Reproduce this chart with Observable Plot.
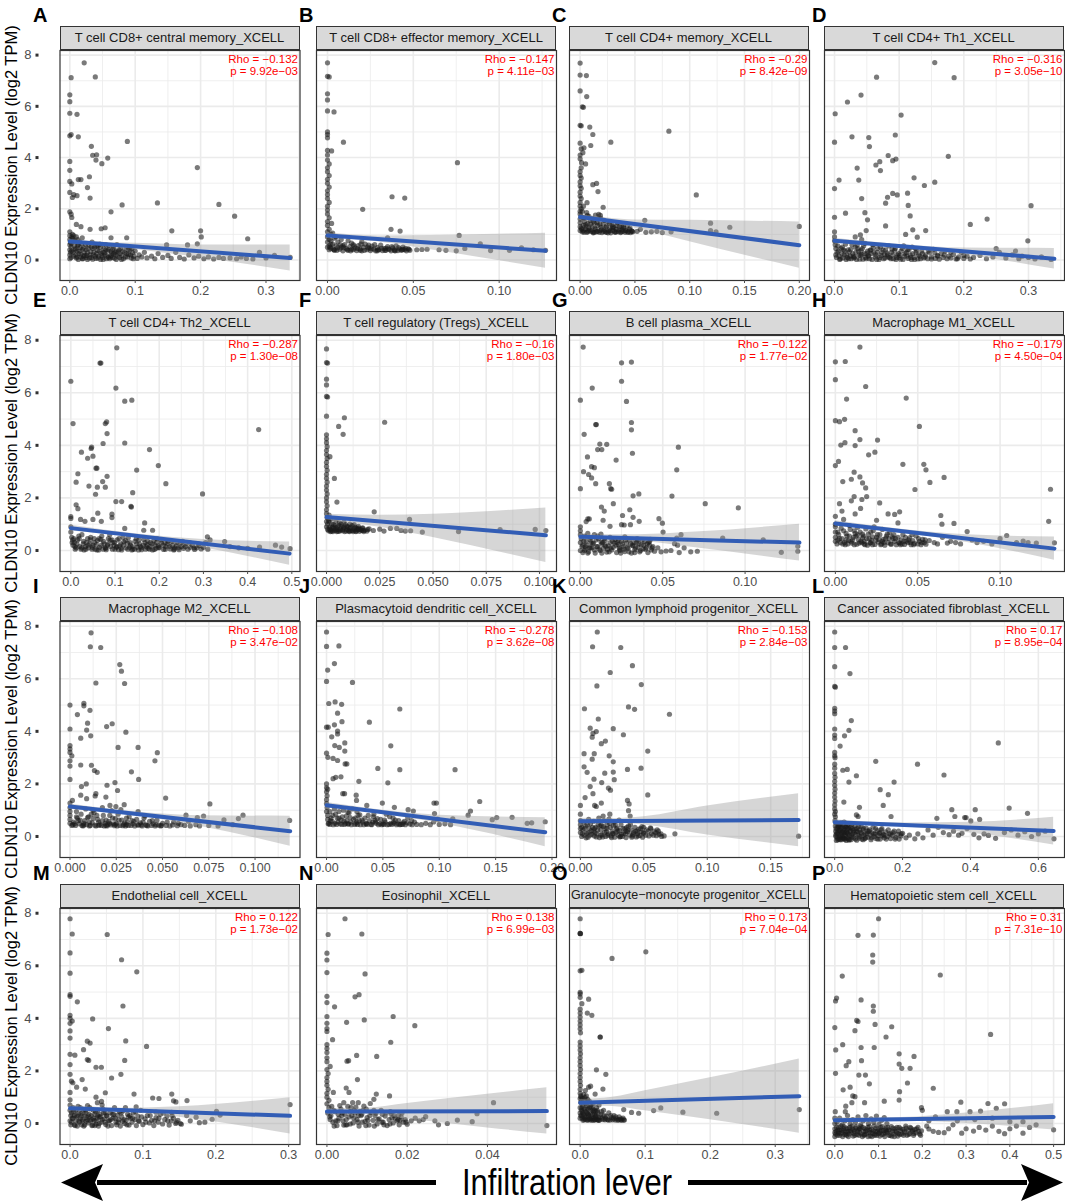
<!DOCTYPE html>
<html><head><meta charset="utf-8">
<script src="https://cdn.jsdelivr.net/npm/d3@7"></script>
<script src="https://cdn.jsdelivr.net/npm/@observablehq/plot@0.6"></script>
<style>
body{margin:0;background:#fff;}
#root{position:relative;width:1065px;height:1202px;overflow:hidden;background:#fff;font-family:"Liberation Sans",Arial,sans-serif;}
.strip{position:absolute;box-sizing:border-box;border:1.2px solid #333;background:#d9d9d9;color:#1a1a1a;font-size:13px;white-space:nowrap;overflow:hidden;line-height:21.6px;display:flex;justify-content:center;}
.panel{position:absolute;}
#overlay{position:absolute;left:0;top:0;pointer-events:none;}
</style></head><body><div id="root"></div>
<script>
// ---------------- DATA ----------------
const panelLetters = ["A","B","C","D","E","F","G","H","I","J","K","L","M","N","O","P"];
const panelTitles = [
 "T cell CD8+ central memory_XCELL","T cell CD8+ effector memory_XCELL","T cell CD4+ memory_XCELL","T cell CD4+ Th1_XCELL",
 "T cell CD4+ Th2_XCELL","T cell regulatory (Tregs)_XCELL","B cell plasma_XCELL","Macrophage M1_XCELL",
 "Macrophage M2_XCELL","Plasmacytoid dendritic cell_XCELL","Common lymphoid progenitor_XCELL","Cancer associated fibroblast_XCELL",
 "Endothelial cell_XCELL","Eosinophil_XCELL","Granulocyte\u2212monocyte progenitor_XCELL","Hematopoietic stem cell_XCELL"];
const rhoValues = ["\u22120.132","\u22120.147","\u22120.29","\u22120.316","\u22120.287","\u22120.16","\u22120.122","\u22120.179",
 "\u22120.108","\u22120.278","\u22120.153","0.17","0.122","0.138","0.173","0.31"];
const pValues = ["9.92e\u221203","4.11e\u221203","8.42e\u221209","3.05e\u221210","1.30e\u221208","1.80e\u221203","1.77e\u221202","4.50e\u221204",
 "3.47e\u221202","3.62e\u221208","2.84e\u221203","8.95e\u221204","1.73e\u221202","6.99e\u221203","7.04e\u221204","7.31e\u221210"];
const xDomains = [[-.015,.352],[-.0064,.1334],[-.0097,.2093],[-.0155,.3557],[-.0245,.5185],[-.0047,.108],[-.0066,.1391],[-.0066,.1391],
 [-.0054,.1243],[-.0089,.204],[-.0086,.1806],[-.03,.677],[-.0138,.3156],[-.0026,.0572],[-.0164,.3527],[-.0236,.5249]];
const xTicks = [[0,.1,.2,.3],[0,.05,.1],[0,.05,.1,.15,.2],[0,.1,.2,.3],[0,.1,.2,.3,.4,.5],[0,.025,.05,.075,.1],[0,.05,.1],[0,.05,.1],
 [0,.025,.05,.075,.1],[0,.05,.1,.15,.2],[0,.05,.1,.15],[0,.2,.4,.6],[0,.1,.2,.3],[0,.02,.04],[0,.1,.2,.3],[0,.1,.2,.3,.4,.5]];
const xDigits = [1,2,2,1,1,3,2,2,3,2,2,1,1,2,1,1];
const yTicks = [0,2,4,6,8];
const yMinor = [1,3,5,7];
const fitStart = [[0,.72],[0,.96],[0,1.68],[0,.75],[0,.85],[0,1.27],[0,.52],[0,1.03],[0,1.14],[0,1.19],[0,.58],[0,.54],[0,.58],[0,.46],[0,.79],[0,.12]];
const fitEnd = [[.337,.08],[.127,.36],[.2,.58],[.34,.05],[.495,-.12],[.103,.58],[.133,.3],[.133,.07],[.119,.2],[.194,.16],[.172,.63],[.645,.21],[.302,.29],[.0548,.47],[.337,1.04],[.5,.25]];
// confidence band: [x, lower, upper]
const bands = [
 [[0,.63,.81],[.05,.555,.695],[.1,.41,.65],[.2,.09,.59],[.337,-.43,.59]],
 [[0,.87,1.05],[.03,.70,.94],[.06,.40,.96],[.127,-.32,1.04]],
 [[0,1.58,1.78],[.025,1.45,1.64],[.05,1.25,1.56],[.1,.71,1.55],[.2,-.32,1.48]],
 [[0,.65,.85],[.1,.47,.61],[.2,.2,.47],[.34,-.35,.45]],
 [[0,.74,.96],[.15,.49,.63],[.3,.1,.42],[.495,-.56,.32]],
 [[0,1.16,1.38],[.025,.88,1.34],[.05,.49,1.38],[.103,-.46,1.62]],
 [[0,.44,.6],[.035,.36,.6],[.07,.1,.7],[.133,-.4,1.0]],
 [[0,.93,1.13],[.04,.67,.81],[.08,.3,.6],[.133,-.37,.51]],
 [[0,1.04,1.24],[.035,.8,.94],[.07,.39,.79],[.119,-.37,.77]],
 [[0,1.09,1.29],[.05,.85,1.0],[.1,.5,.81],[.194,-.39,.71]],
 [[0,.47,.69],[.025,.5,.68],[.05,.44,.75],[.1,.06,1.16],[.172,-.39,1.63]],
 [[0,.44,.64],[.2,.37,.51],[.4,.13,.54],[.645,-.32,.73]],
 [[0,.48,.68],[.075,.44,.58],[.15,.24,.64],[.302,-.4,.98]],
 [[0,.36,.56],[.01,.34,.58],[.02,.17,.76],[.04,-.17,1.11],[.0548,-.4,1.36]],
 [[0,.67,.91],[.05,.65,1.0],[.1,.48,1.25],[.2,.14,1.74],[.337,-.37,2.45]],
 [[0,.02,.22],[.15,.09,.23],[.3,0,.4],[.5,-.25,.75]]
];

const ptsA = [[.022,7.7],[.002,7.12],[.039,7.15],[0,6.45],[0,6.18],[0,5.73],[.011,5.69],[0,4.85],[.002,4.9],[.013,4.81],[.088,4.63],[.033,4.44],[.035,4.09],[.041,4.11],[.04,3.9],[.049,3.76],[.058,3.98],[0,3.85],[0,3.5],[.195,3.61],[0,3.07],[.013,3.14],[.017,3.14],[.03,3.25],[.003,2.97],[.027,2.83],[0,2.64],[.006,2.55],[.011,2.51],[.004,2.44],[.031,2.42],[.08,2.15],[.134,2.23],[.228,2.17],[.252,1.71],[.063,1.88],[0,1.88],[.002,1.79],[.003,1.66],[.01,1.39],[.017,1.3],[.031,1.2],[.048,1.22],[.054,1.26],[.156,1.14],[.2,1.14],[.201,.9],[.272,.83],[.087,.87],[.063,.87],[.019,.87],[.148,.59],[.18,.59],[.195,.63],[.29,.3],[.313,.18],[.337,.1],
 [0,1.1],[0,.95],[0,.8],[.001,.7],[0,.6],[.002,.5],[0,.4],[.001,.3],[0,.2],[.002,.1],[0,.05],[.003,.9],[.004,1.0],[.005,.75],[.003,.35],
 [.006,.15],[.008,.4],[.01,.08],[.012,.55],[.014,.25],[.015,.7],[.017,.12],[.019,.42],[.02,.05],[.022,.3],[.024,.6],[.026,.18],[.028,.45],[.03,.08],[.032,.33],[.034,.7],[.036,.2],[.038,.5],[.04,.06],[.042,.38],[.044,.15],[.046,.62],[.048,.27],[.05,.1],[.052,.45],[.054,.2],[.056,.05],[.058,.35],[.06,.55],[.062,.12],[.064,.28],[.066,.42],[.068,.07],[.07,.2],[.072,.6],[.074,.32],[.076,.1],[.078,.45],[.08,.18],[.082,.05],[.084,.3],[.086,.5],[.088,.12],[.09,.22],[.092,.4],[.094,.08],[.096,.28],[.098,.15],[.1,.35],[.103,.06],[.106,.2],[.11,.12],[.114,.3],[.118,.08],[.009,.2],[.013,.02],[.018,.65],[.025,.1],[.033,.52],[.041,.25],[.047,.02],[.055,.4],[.063,.18],[.071,.35],[.079,.02],[.087,.25],[.095,.45],[.011,.35],[.016,.48],[.021,.15],[.027,.28],[.035,.03],[.043,.55],[.051,.3],[.059,.1],[.067,.25],
 [.125,.15],[.13,.05],[.135,.25],[.142,.1],[.15,.18],[.155,.06],[.162,.3],[.168,.1],[.175,.04],[.182,.2],[.19,.08],[.197,.15],[.205,.05],[.212,.12],[.22,.04],[.228,.1],[.235,.06],[.245,.08],[.255,.05],[.262,.12],[.27,.06],[.28,.04],[.3,.08]];
const denseA = [[.005,.3],[.007,.55],[.009,.45],[.011,.12],[.013,.6],[.015,.35],[.017,.22],[.019,.05],[.021,.48],[.023,.18],[.025,.4],[.027,.02],[.029,.58],[.031,.2],[.033,.1],[.035,.45],[.037,.3],[.039,.15],[.041,.55],[.043,.08],[.045,.35],[.047,.5],[.049,.18],[.051,.02],[.053,.28],[.055,.6],[.057,.15],[.059,.42],[.061,.05],[.063,.35],[.065,.1],[.067,.5],[.069,.3],[.071,.02],[.073,.15],[.075,.4],[.077,.25],[.081,.35],[.085,.12],[.089,.4],[.093,.2],[.097,.05],[.002,.65],[.004,.85],[.006,.95],[.008,.75],[.01,.9],[.012,.8]];

const ptsB = [[0,7.7],[0,7.17],[.001,7.15],[0,6.49],[0,6.25],[0,5.82],[.0038,5.78],[0,5.0],[0,4.9],[0,4.77],[.0093,4.6],[0,4.28],[.0024,4.26],[.0757,3.8],[.0376,2.47],[.045,2.42],[.0205,1.98],[.0024,1.43],[.037,1.2],[.0423,1.13],[.035,.87],[.0767,.96],
 [0,4.1],[0,3.9],[.001,3.75],[0,3.6],[0,3.45],[.001,3.3],[0,3.15],[0,3.0],[.001,2.85],[0,2.7],[0,2.55],[0,2.4],[.001,2.25],[0,2.1],[0,1.95],[0,1.8],[.001,1.65],[0,1.5],[0,1.35],[.001,1.2],[0,1.1],[.002,1.0],[0,.9],[.001,.8],[0,.7],[.002,.6],[0,.5],[.001,.4],
 [.002,.45],[.003,.62],[.004,.38],[.005,.55],[.006,.7],[.007,.42],[.008,.5],[.009,.36],[.01,.6],[.011,.45],[.012,.38],[.013,.52],[.014,.66],[.015,.4],[.016,.47],[.017,.37],[.018,.56],[.019,.43],[.02,.36],[.021,.5],[.022,.62],[.023,.4],[.024,.46],[.025,.37],[.026,.54],[.027,.42],[.028,.36],[.029,.48],[.03,.4],[.031,.58],[.032,.37],[.033,.45],[.034,.38],[.035,.52],[.036,.41],[.037,.36],[.038,.47],[.039,.4],[.04,.55],[.041,.37],[.042,.43],[.043,.38],[.044,.5],[.045,.4],[.046,.36],[.047,.44],[.048,.38],[.005,.9],[.008,.8],[.012,.75],[.003,1.05],[.006,.48],[.015,.6],[.02,.72],[.004,.4],[.009,.55],[.014,.42],[.019,.38],[.024,.58],[.029,.36],[.034,.46],[.039,.37],[.044,.42],
 [.052,.4],[.055,.41],[.058,.42],[.065,.4],[.069,.38],[.075,.36],[.08,.45],[.089,.63],[.095,.37],[.106,.38],[.113,.47],[.12,.4],[.127,.38]];
const denseB = [[.0015,.5],[.0035,.42],[.0055,.38],[.0075,.6],[.0095,.48],[.0115,.4],[.0135,.36],[.0155,.55],[.0175,.45],[.0195,.62],[.0215,.38],[.0235,.5],[.0255,.44],[.0275,.6],[.0295,.4],[.0315,.46],[.0335,.38],[.0355,.44],[.0375,.52],[.0395,.36],[.0415,.48],[.0435,.4],[.0455,.46],[.0475,.42],[.001,.55],[.002,.75],[.004,.85]];

const ptsC = [[0,7.69],[0,7.22],[.0057,7.2],[0,6.6],[.006,6.38],[.002,5.98],[.003,5.96],[0,5.26],[.001,5.24],[.0088,5.19],[.0116,4.9],[.028,4.6],[.081,5.03],[0,4.56],[.0097,4.47],[.001,4.34],[.0035,4.38],[.0025,4.19],[.0013,3.8],[.005,3.75],[.0116,2.94],[.015,2.99],[.0163,2.67],[.106,2.54],[.059,1.55],[.119,1.44],[.1366,1.28],[.2,1.31],[.119,1.15],[.0063,2.24],[.021,2.06],[.017,1.78],[.0066,1.74],[.0185,1.74],
 [0,4.1],[0,3.95],[.001,3.6],[0,3.45],[0,3.3],[.001,3.2],[0,3.05],[0,2.9],[.001,2.8],[0,2.65],[0,2.5],[.001,2.4],[0,2.25],[0,2.1],[.001,2.0],[0,1.9],[0,1.8],[.001,1.7],[0,1.6],[.002,1.9],[.003,2.1],[.003,1.65],[0,1.45],[0,1.3],[0,1.15],
 [.002,1.1],[.003,1.35],[.004,1.5],[.005,1.2],[.006,1.08],[.007,1.42],[.008,1.25],[.009,1.55],[.01,1.12],[.011,1.3],[.012,1.06],[.013,1.45],[.014,1.2],[.015,1.1],[.016,1.35],[.017,1.6],[.018,1.15],[.019,1.28],[.02,1.07],[.021,1.4],[.022,1.18],[.023,1.1],[.024,1.32],[.025,1.5],[.026,1.13],[.027,1.22],[.028,1.06],[.029,1.38],[.03,1.15],[.031,1.27],[.032,1.08],[.033,1.2],[.034,1.45],[.035,1.1],[.036,1.3],[.037,1.07],[.038,1.18],[.039,1.12],[.04,1.25],[.041,1.08],[.042,1.15],[.043,1.35],[.044,1.1],[.045,1.2],[.046,1.07],[.047,1.14],[.048,1.1],[.004,1.65],[.006,1.85],[.008,1.7],[.011,1.62],[.014,1.75],[.019,1.62],[.003,1.15],[.005,1.38],[.009,1.18],[.012,1.5],[.016,1.12],[.022,1.55],[.027,1.42],[.033,1.1],[.038,1.3],[.001,1.25],[.007,1.1],[.013,1.08],[.018,1.4],[.024,1.08],[.03,1.3],
 [.052,1.12],[.055,1.2],[.06,1.08],[.065,1.1],[.07,1.12],[.075,1.07],[.083,1.1],[.124,1.1]];
const denseC = [[.0015,1.2],[.0035,1.08],[.0055,1.3],[.0075,1.15],[.0095,1.4],[.0115,1.1],[.0135,1.25],[.0155,1.45],[.0175,1.08],[.0195,1.2],[.0215,1.12],[.0235,1.28],[.0255,1.06],[.0275,1.15],[.0295,1.25],[.0315,1.1],[.0335,1.35],[.0355,1.18],[.0375,1.1],[.0395,1.3],[.0415,1.15],[.0435,1.08],[.0455,1.25],[.0475,1.12]];

const ptsD = [[.155,7.71],[.065,7.14],[.185,7.12],[.041,6.44],[.02,6.17],[.001,5.71],[.103,5.66],[0,4.6],[.027,4.81],[.053,4.78],[.054,4.43],[.094,4.88],[.083,4.08],[.095,3.94],[.09,3.88],[.07,3.84],[.064,3.71],[.071,3.49],[.176,4.05],[.035,3.59],[.007,3.12],[.0375,3.12],[.123,3.21],[.139,2.91],[.155,3.04],[0,2.79],[.042,2.4],[.09,2.6],[.097,2.54],[.082,2.45],[.079,2.22],[.113,2.61],[.114,2.13],[.117,1.72],[.304,2.12],[.017,1.83],[.047,1.85],[0,1.67],[.051,1.57],[.21,1.39],[.236,1.6],[.079,1.33],[.11,1.0],[.121,1.18],[.128,.89],[.141,1.15],[.04,.98],[.049,1.15],[.032,.9],[.042,.8],[.299,.75],
 [0,.9],[0,.75],[.001,.6],[0,1.1],[.002,.45],
 [.003,.1],[.006,.35],[.009,.05],[.012,.5],[.015,.2],[.018,.02],[.021,.4],[.024,.15],[.027,.6],[.03,.08],[.033,.3],[.036,.45],[.039,.03],[.042,.22],[.045,.55],[.048,.1],[.051,.35],[.054,.05],[.057,.25],[.06,.48],[.063,.12],[.066,.3],[.069,.02],[.072,.18],[.075,.4],[.078,.08],[.081,.28],[.084,.55],[.087,.05],[.09,.2],[.093,.38],[.096,.1],[.099,.25],[.102,.03],[.105,.45],[.108,.15],[.111,.3],[.114,.06],[.117,.2],[.12,.5],[.123,.1],[.126,.28],[.129,.04],[.132,.15],[.135,.35],[.138,.08],[.141,.2],[.144,.05],[.147,.3],[.15,.12],[.153,.42],[.156,.06],[.159,.18],[.162,.03],[.165,.25],[.168,.1],[.171,.35],[.174,.05],[.177,.15],[.18,.08],[.184,.22],[.188,.04],[.192,.12],[.196,.3],[.2,.06],[.205,.15],[.21,.04],[.215,.1],[.005,.55],[.011,.25],[.017,.62],[.023,.32],[.029,.15],[.035,.58],[.041,.38],[.047,.65],[.053,.18],[.059,.6],[.065,.02],[.071,.5],[.077,.22],[.083,.12],[.089,.42],[.095,.02],[.101,.18],[.107,.55],[.113,.4],[.119,.02],[.125,.45],[.002,.2],[.008,.02],[.014,.4],[.02,.1],[.026,.05],[.032,.5],[.038,.2],[.044,.03],[.05,.25],[.056,.4],
 [.225,.18],[.235,.05],[.245,.12],[.255,.3],[.265,.08],[.275,.2],[.285,.05],[.29,.15],[.3,.1],[.31,.04],[.32,.12],[.335,.02],[.25,.45],[.28,.35]];
const denseD = [[.004,.3],[.007,.15],[.01,.45],[.013,.08],[.016,.35],[.019,.2],[.022,.05],[.025,.42],[.028,.25],[.031,.12],[.034,.02],[.037,.35],[.04,.18],[.043,.45],[.046,.25],[.049,.05],[.052,.15],[.055,.38],[.058,.02],[.061,.3],[.064,.2],[.067,.45],[.07,.1],[.073,.3],[.076,.05],[.079,.4],[.082,.2],[.085,.1],[.088,.3],[.091,.05],[.094,.45],[.097,.2],[.1,.1],[.103,.35],[.106,.02],[.109,.25],[.112,.15],[.115,.4],[.118,.1],[.121,.25],[.124,.02],[.127,.38],[.13,.2],[.133,.05],[.136,.25],[.14,.12],[.145,.35],[.15,.04],[.155,.28],[.16,.15],[.17,.2],[.18,.3],[.19,.05],[.2,.18]];

const ptsE = [[.104,7.71],[.066,7.13],[.068,7.13],[0,6.44],[.102,6.18],[.122,5.68],[.138,5.72],[.005,4.83],[.078,4.83],[.081,4.89],[.082,4.45],[.425,4.6],[.073,4.07],[.122,4.09],[.047,3.93],[.046,3.88],[.178,3.84],[.024,3.74],[.038,3.51],[.05,3.59],[.057,3.13],[.059,3.13],[.198,3.23],[.149,3.06],[.016,2.92],[.082,2.82],[.012,2.6],[.072,2.62],[.041,2.45],[.06,2.41],[.078,2.41],[.215,2.54],[.056,2.14],[.14,2.2],[.298,2.15],[.102,1.86],[.115,1.86],[.136,1.68],[.137,1.65],[.012,1.74],[.016,1.59],[0,1.29],[0,1.22],[.022,1.18],[.032,1.11],[.05,1.18],[.061,1.42],[.069,1.11],[.093,1.38],[.093,1.25],[.167,1.05],[.185,.77],[.165,.77],[.122,.84],
 [0,.9],[0,.7],[.002,.5],[.005,.2],[.01,.05],[.015,.4],[.02,.15],[.025,.6],[.03,.02],[.035,.3],[.04,.1],[.045,.5],[.05,.2],[.055,.05],[.06,.38],[.065,.12],[.07,.55],[.075,.25],[.08,.03],[.085,.45],[.09,.15],[.095,.3],[.1,.05],[.105,.4],[.11,.18],[.115,.02],[.12,.33],[.125,.1],[.13,.48],[.135,.2],[.14,.05],[.145,.35],[.15,.12],[.155,.25],[.16,.03],[.165,.42],[.17,.15],[.175,.08],[.18,.3],[.185,.02],[.19,.2],[.195,.45],[.2,.1],[.205,.28],[.21,.04],[.215,.15],[.22,.35],[.225,.06],[.23,.2],[.235,.1],[.24,.3],[.245,.03],[.25,.15],[.255,.08],[.26,.25],[.265,.05],[.27,.12],[.275,.2],[.28,.04],[.285,.1],[.29,.18],[.295,.06],[.3,.12],[.305,.3],[.31,.05],[.315,.4],[.008,.3],[.018,.55],[.028,.25],[.038,.45],[.048,.05],[.058,.22],[.068,.42],[.078,.1],[.088,.6],[.098,.2],[.108,.03],[.118,.5],[.128,.28],[.138,.02],[.148,.45],[.158,.15],[.168,.3],[.178,.05],[.188,.38],[.198,.18],[.012,.1],[.033,.15],[.053,.45],[.073,.05],[.093,.4],[.113,.25],[.133,.12],[.153,.02],[.173,.22],[.193,.08],[.213,.3],[.233,.02],[.253,.35],[.003,.3],[.007,.45],[.023,.05],[.043,.25],[.063,.02],[.083,.2],[.103,.12],
 [.309,.52],[.348,.34],[.36,.15],[.38,.1],[.4,.08],[.427,.13],[.463,.2],[.477,.13],[.496,.07]];
const denseE = [[.004,.4],[.009,.15],[.014,.25],[.019,.45],[.024,.1],[.029,.35],[.034,.05],[.039,.2],[.044,.4],[.049,.12],[.054,.3],[.059,.02],[.064,.45],[.069,.2],[.074,.35],[.079,.08],[.084,.25],[.089,.4],[.094,.05],[.099,.3],[.104,.15],[.109,.45],[.114,.08],[.119,.2],[.124,.38],[.129,.05],[.134,.3],[.139,.15],[.144,.05],[.149,.25],[.154,.4],[.159,.1],[.164,.2],[.169,.05],[.174,.35],[.179,.15],[.184,.25],[.189,.04],[.194,.3],[.199,.12],[.204,.4],[.209,.2],[.214,.05],[.219,.25],[.224,.15],[.229,.35],[.234,.05],[.239,.18],[.244,.1],[.249,.28],[.259,.15],[.269,.3],[.279,.1],[.289,.25]];

const ptsF = [[0,7.67],[0,7.15],[.0005,7.13],[0,6.52],[0,6.3],[0,5.86],[.0005,5.84],[0,5.11],[.0084,5.05],[.0273,4.88],[.0057,4.72],[.0078,4.42],[.0016,3.57],[.0037,2.74],[.0049,1.84],[.0224,1.47],[.039,1.18],[.0395,.75],
 [0,4.4],[0,4.25],[0,4.1],[.0003,3.95],[0,3.8],[0,3.65],[.0003,3.5],[0,3.35],[0,3.2],[.0003,3.05],[0,2.9],[0,2.75],[.0003,2.6],[0,2.45],[0,2.3],[.0003,2.15],[0,2.0],[0,1.85],[.0003,1.7],[0,1.55],[0,1.4],[.0003,1.25],[0,1.1],[.0005,1.0],[0,.9],[.0005,.8],[.001,1.15],[.0012,1.35],
 [.001,.75],[.0015,.9],[.002,.8],[.0025,1.0],[.003,.72],[.0035,.85],[.004,.95],[.0045,.78],[.005,.88],[.0055,.73],[.006,1.05],[.0065,.82],[.007,.92],[.0075,.75],[.008,.86],[.0085,.72],[.009,.98],[.0095,.8],[.01,.9],[.0105,.74],[.011,.84],[.0115,.76],[.012,.95],[.0125,.72],[.013,.82],[.0135,.88],[.014,.74],[.0145,.79],[.015,.92],[.0155,.73],[.016,.8],[.0165,.76],[.017,.86],[.0175,.72],[.018,.78],[.019,.74],[.02,.82],[.0012,1.1],[.0022,1.2],[.0033,.98],[.0044,1.12],[.0058,.96],[.0068,1.0],[.0082,1.08],[.0095,.92],[.011,1.0],[.013,.98],[.015,.85],[.0018,.72],[.0028,.88],[.0048,.72],[.0038,.76],[.0062,.74],[.0078,.8],[.0102,.78],[.0122,.76],[.0142,.84],[.0025,.78],[.0052,.8],
 [.022,.76],[.025,.81],[.027,.74],[.03,.84],[.033,.84],[.035,.76],[.037,.74],[.045,.7],[.062,.72],[.0815,.79],[.098,.8],[.103,.76]];
const denseF = [[.0013,.82],[.0023,.74],[.0043,.86],[.0063,.78],[.0083,.9],[.0093,.74],[.0113,.88],[.0133,.78],[.0153,.8],[.0173,.76],[.0193,.8],[.0108,.72],[.0138,.72],[.0168,.84]];

const ptsG = [[.0017,7.74],[.025,7.14],[.031,7.17],[.025,6.44],[.0072,6.18],[0,5.72],[.028,5.67],[.0093,4.79],[.0097,4.79],[.031,4.87],[.031,4.59],[.0023,4.42],[.0118,4.05],[.016,4.04],[.0105,3.84],[.013,3.84],[.0595,3.93],[.0316,3.7],[.0043,3.56],[.0217,3.44],[.0068,3.19],[.0085,3.15],[.0585,3.07],[.0019,3.0],[.005,2.89],[.0068,2.76],[.0093,2.54],[.0176,2.54],[.0184,2.35],[.019,2.33],[0,2.35],[.032,2.08],[.0355,2.15],[.0556,2.07],[.0758,1.78],[.0959,1.62],[.02,1.78],[.0128,1.65],[.0145,1.5],[.03,1.55],[.0256,1.33],[.032,1.26],[.0357,1.11],[.0304,.98],[.0138,1.15],[.0477,1.21],[.0498,1.04],[.0035,1.1],[.0045,1.2],[.0054,1.2],[.018,.92],[.025,.98],[.0266,.97],
 [0,.9],[0,.75],[0,.6],[.0005,.45],[0,.3],[.001,.15],[0,0],[.0015,-.08],
 [.002,.35],[.003,.05],[.004,.2],[.005,-.05],[.006,.4],[.007,.1],[.008,.28],[.009,-.1],[.01,.15],[.011,.45],[.012,0],[.013,.25],[.014,.08],[.015,.38],[.016,-.06],[.017,.18],[.018,.3],[.019,.02],[.02,.12],[.021,.42],[.022,-.08],[.023,.22],[.024,.05],[.025,.35],[.026,.15],[.027,-.04],[.028,.28],[.029,.08],[.03,.4],[.031,-.1],[.032,.18],[.033,.03],[.034,.3],[.035,.12],[.036,-.05],[.037,.22],[.038,.06],[.039,.35],[.04,.1],[.041,-.08],[.042,.2],[.043,.02],[.044,.15],[.045,-.03],[.0025,.55],[.0045,.65],[.0065,.5],[.0085,.6],[.0105,.55],[.0125,.62],[.0045,-.1],[.0085,.02],[.0125,.32],[.0165,.05],[.0205,.28],[.0245,-.1],[.0285,.12],[.0325,.3],[.0365,0],[.0405,.25],[.003,.15],[.013,-.1],[.023,.38],[.033,-.08],[.018,.5],[.027,.52],[.006,.1],[.015,.2],[.024,.0],[.035,.4],[.042,.35],
 [.047,.1],[.049,-.05],[.052,-.02],[.055,0],[.059,.2],[.06,-.08],[.063,.1],[.067,-.05],[.071,-.03],[.0572,.26],[.0864,.47],[.111,.4],[.122,-.07],[.132,.16],[.132,-.03],[.0502,.7],[.0611,.6],[.0585,.47]];
const denseG = [[.0015,.2],[.0035,.35],[.0055,.1],[.0075,.25],[.0095,.4],[.0115,.05],[.0135,.3],[.0155,.15],[.0175,-.05],[.0195,.35],[.0215,.2],[.0235,.1],[.0255,.25],[.0275,.4],[.0295,-.05],[.0315,.2],[.0335,.1],[.0355,.25],[.0375,.4],[.0395,.05],[.0415,.3],[.0435,.1],[.0025,0],[.0065,.3],[.0105,.15],[.0145,.45],[.0185,.1],[.0225,.3],[.0265,.05],[.0305,.25],[.0345,.45],[.0385,.2],[.0425,.42]];

const ptsH = [[.0149,7.74],[0,7.18],[.006,7.19],[0,6.5],[.0184,6.24],[.0068,5.76],[.043,5.8],[0,4.94],[.0025,4.9],[.0056,4.99],[.051,4.72],[.012,4.56],[.0149,4.22],[.0256,4.2],[.0033,4.01],[.0058,4.1],[.012,3.99],[.024,3.74],[.0202,3.64],[.0019,3.39],[0,3.23],[.041,3.28],[.0537,3.28],[.055,3.07],[.0114,2.98],[.0149,2.8],[.0097,2.71],[.066,2.78],[.0045,2.62],[.0165,2.57],[.0184,2.38],[.0574,2.59],[.0483,2.32],[.1306,2.33],[.0114,2.05],[.0161,1.94],[.0097,1.89],[.019,2.05],[.0025,1.78],[.0269,1.81],[.004,1.5],[.012,1.39],[.0153,1.6],[.032,1.39],[.036,1.37],[.039,1.47],[.064,1.33],[.0647,1.0],[.072,1.03],[.1295,1.11],[0,1.3],[.005,1.18],[.025,1.15],[0,1.0],[.038,1.05],
 [0,.9],[0,.7],[0,.5],[0,.35],[.001,.25],
 [.002,.6],[.003,.3],[.004,.45],[.005,.75],[.006,.22],[.007,.55],[.008,.38],[.009,.8],[.01,.28],[.011,.5],[.012,.65],[.013,.24],[.014,.42],[.015,.7],[.016,.3],[.017,.55],[.018,.22],[.019,.45],[.02,.62],[.021,.28],[.022,.38],[.023,.75],[.024,.23],[.025,.5],[.026,.32],[.027,.6],[.028,.25],[.029,.42],[.03,.2],[.031,.55],[.032,.3],[.033,.68],[.034,.24],[.035,.45],[.036,.35],[.037,.22],[.038,.5],[.039,.28],[.04,.4],[.041,.6],[.042,.23],[.043,.35],[.044,.3],[.045,.48],[.046,.22],[.047,.38],[.048,.27],[.049,.55],[.05,.25],[.051,.35],[.052,.22],[.053,.42],[.054,.3],[.055,.24],[.0035,.85],[.0085,.95],[.0135,.88],[.0185,.82],[.0235,.9],[.0285,.8],[.0045,.25],[.0095,.35],[.0145,.28],[.0195,.2],[.0245,.4],[.0295,.3],[.0345,.52],[.0395,.22],[.0445,.4],[.0065,.4],[.0115,.22],[.0165,.48],[.0215,.3],[.0015,.4],[.0075,.25],[.0125,.55],[.0175,.35],[.0225,.52],[.0275,.22],[.0325,.45],
 [.057,.38],[.06,.3],[.062,.25],[.065,.5],[.068,.28],[.07,.35],[.073,.3],[.076,.25],[.08,.72],[.083,.4],[.086,.3],[.09,.35],[.095,.25],[.1,.45],[.104,.57],[.11,.3],[.114,.36],[.117,.3],[.122,.28],[.133,.29]];
const denseH = [[.0025,.45],[.0055,.3],[.0085,.55],[.0105,.4],[.0135,.6],[.0155,.35],[.0175,.25],[.0205,.45],[.0225,.22],[.0255,.6],[.0285,.35],[.0305,.45],[.0335,.25],[.0355,.6],[.0385,.3],[.0405,.25],[.0425,.5],[.0455,.3],[.0475,.22],[.0505,.45],[.0525,.3],[.0545,.4],[.0015,.7],[.0065,.65],[.0115,.75],[.0165,.62],[.0215,.7],[.0265,.42],[.0315,.62],[.0365,.45],[.0415,.35],[.0465,.6]];

const ptsI = [[.0114,7.75],[.011,7.22],[.0166,7.19],[.0269,6.54],[.0278,6.29],[.014,5.84],[.0295,5.82],[0,5.0],[.0075,5.07],[.0075,4.97],[.004,4.64],[.0108,4.8],[.0095,4.31],[.0228,4.29],[.0198,4.18],[0,4.09],[.009,4.05],[.0302,3.97],[.0058,3.74],[.0112,3.83],[0,3.46],[0,3.33],[0,3.2],[.026,3.39],[.0368,3.39],[.0472,3.19],[.0459,2.88],[.001,3.07],[0,2.88],[0,2.68],[.0058,2.72],[.0116,2.71],[.0132,2.51],[.0147,2.44],[.0332,2.46],[.0371,2.17],[0,2.17],[.0243,2.05],[.0088,2.0],[.0062,1.9],[.02,1.95],[.0257,1.75],[.014,1.63],[.0136,1.54],[.0194,1.5],[.009,1.44],[.0058,1.57],[.0013,1.37],[0,1.27],[.0517,1.46],[.0293,1.21],[.0248,1.14],[.0216,1.18],[.0756,1.24],[.0368,.95],
 [0,1.1],[0,.95],[0,.8],[0,.65],[0,.5],[.001,.42],
 [.002,.55],[.003,.42],[.004,.7],[.005,.48],[.006,.85],[.007,.4],[.008,.6],[.009,.45],[.01,.75],[.011,.42],[.012,.52],[.013,.9],[.014,.4],[.015,.65],[.016,.46],[.017,.42],[.018,.8],[.019,.5],[.02,.4],[.021,.58],[.022,.44],[.023,.7],[.024,.41],[.025,.5],[.026,.85],[.027,.42],[.028,.62],[.029,.45],[.03,.4],[.031,.55],[.032,.75],[.033,.42],[.034,.48],[.035,.4],[.036,.65],[.037,.43],[.038,.52],[.039,.4],[.04,.7],[.041,.44],[.042,.4],[.043,.58],[.044,.42],[.045,.48],[.046,.4],[.047,.62],[.048,.43],[.049,.4],[.05,.5],[.052,.42],[.054,.4],[.056,.55],[.058,.41],[.06,.45],[.0035,.95],[.0085,1.05],[.0125,1.0],[.0175,1.1],[.0225,.98],[.0275,1.02],[.0065,.42],[.0105,.4],[.0155,.55],[.0205,.46],[.0255,.4],[.0305,.45],[.0045,.6],[.0095,.72],[.0145,.8],[.0195,.62],[.0245,.68],[.0015,.45],[.0075,.5],[.0135,.43],[.0185,.4],[.0235,.48],[.0285,.41],[.0335,.6],[.0385,.44],
 [.062,.42],[.065,.4],[.068,.45],[.07,.4],[.064,.58],[.0627,.81],[.0688,.72],[.0722,.78],[.0832,.63],[.091,.68],[.0935,.81],[.088,.45],[.075,.42],[.08,.4],[.1187,.61]];
const denseI = [[.0025,.48],[.0055,.62],[.0075,.44],[.0105,.55],[.0125,.68],[.0155,.42],[.0175,.6],[.0195,.42],[.0215,.5],[.0245,.45],[.0265,.62],[.0295,.52],[.0315,.42],[.0345,.58],[.0365,.45],[.0395,.55],[.0415,.42],[.0445,.6],[.0465,.45],[.0495,.42],[.0525,.55],[.0555,.44],[.0585,.5],[.0035,.75],[.0115,.85],[.0215,.8],[.0305,.7],[.0405,.78]];

const ptsJ = [[0,7.78],[0,7.23],[.011,7.25],[.007,6.58],[.001,6.33],[0,5.9],[.023,5.86],[.002,5.06],[.0076,5.12],[.0134,5.03],[.065,4.85],[.0098,4.69],[.0137,4.37],[.007,4.25],[.038,4.35],[0,4.16],[.0015,4.16],[.0098,4.01],[.0098,3.9],[.0046,3.79],[.0073,3.46],[.0113,3.39],[.0162,3.56],[.0162,3.25],[.057,3.45],[0,3.17],[.0012,3.01],[.0058,2.97],[.0098,2.89],[.0165,2.76],[.018,2.76],[.0455,2.59],[.065,2.54],[.114,2.54],[.0058,2.2],[.0082,2.25],[.0128,2.27],[.0287,2.1],[.0544,2.04],[.0144,1.63],[.016,1.63],[.0263,1.57],[.0266,1.37],[.0357,1.18],[.0495,1.27],[.0602,1.11],[.0724,1.02],[.077,.97],[.0953,1.27],[.0975,1.27],[.1359,1.33],
 [0,2.0],[0,1.85],[0,1.7],[.0005,1.55],[0,1.4],[0,1.25],[.0005,1.1],[0,.95],[.001,1.8],
 [.002,.5],[.004,.7],[.006,.45],[.008,.85],[.01,.55],[.012,.48],[.014,.75],[.016,.46],[.018,.6],[.02,.9],[.022,.45],[.024,.65],[.026,.5],[.028,.8],[.03,.45],[.032,.55],[.034,.7],[.036,.46],[.038,.6],[.04,.45],[.042,.85],[.044,.5],[.046,.45],[.048,.65],[.05,.48],[.052,.55],[.054,.45],[.056,.75],[.058,.46],[.06,.5],[.062,.45],[.064,.6],[.066,.46],[.068,.52],[.07,.45],[.072,.7],[.074,.47],[.076,.45],[.078,.55],[.08,.46],[.003,.95],[.007,1.05],[.011,.95],[.015,1.0],[.019,.92],[.023,1.05],[.027,.95],[.005,.58],[.009,.46],[.013,.62],[.017,.5],[.021,.72],[.025,.46],[.029,.6],[.033,.45],[.037,.8],[.041,.55],[.045,.68],[.049,.45],[.053,.85],[.057,.5],[.061,.62],[.065,.45],[.069,.58],[.001,.65],[.001,.8],[.003,.46],[.011,.7],[.019,.47],[.027,.55],[.035,.48],[.043,.62],[.051,.46],[.059,.7],
 [.084,.45],[.088,.5],[.092,.45],[.095,.55],[.1,.46],[.105,.48],[.11,.45],[.0985,.66],[.0958,.87],[.112,.67],[.1277,.97],[.1256,.81],[.151,.72],[.147,.64],[.1646,.73],[.182,.52],[.194,.56],[.178,.5]];
const denseJ = [[.0015,.48],[.0035,.6],[.0075,.5],[.0095,.7],[.0135,.46],[.0155,.58],[.0195,.48],[.0215,.55],[.0255,.7],[.0275,.46],[.0315,.62],[.0355,.5],[.0395,.46],[.0435,.55],[.0475,.48],[.0515,.62],[.0555,.46],[.0595,.55],[.0635,.48],[.0675,.46],[.0715,.52],[.0755,.6],[.0055,.8],[.0175,.78],[.0295,.82],[.0415,.75]];

const ptsK = [[.0133,7.78],[.0096,7.22],[.0318,7.19],[.041,6.5],[.0235,6.24],[.013,5.73],[.048,5.78],[.0032,4.86],[.0379,4.93],[.0427,4.84],[.0702,4.65],[.0141,4.47],[.0077,4.12],[.0125,3.99],[.0093,3.78],[.0099,3.92],[.0259,4.1],[.0339,3.87],[.0165,3.53],[.0197,3.63],[.0029,3.15],[.0109,3.15],[.0093,2.94],[.0531,3.25],[.0227,3.07],[.0259,2.84],[.0029,2.65],[.0053,2.44],[.0192,2.41],[.0259,2.45],[.0371,2.55],[.0478,2.6],[.0107,2.18],[.0077,1.9],[.0267,2.16],[.0168,2.05],[.0221,1.84],[.0237,1.76],[.0099,1.63],[.0531,1.58],[.0037,1.48],[.0371,1.37],[.0384,1.24],[.0112,1.18],[.0165,1.27],[.0125,1.14],[0,1.18],[0,.85],[.0379,.98],[.0392,.78],[.0232,.85],[.0179,.78],
 [0,.6],[0,.45],[0,.3],[0,.15],[.001,0],
 [.002,.25],[.003,.05],[.004,.4],[.005,.12],[.006,-.03],[.007,.3],[.008,.48],[.009,.08],[.01,.2],[.011,.02],[.012,.35],[.013,.1],[.014,.45],[.015,-.04],[.016,.25],[.017,.06],[.018,.38],[.019,.15],[.02,0],[.021,.3],[.022,.1],[.023,.5],[.024,.02],[.025,.2],[.026,.4],[.027,-.03],[.028,.15],[.029,.32],[.03,.05],[.031,.22],[.032,.45],[.033,0],[.034,.12],[.035,.3],[.036,-.04],[.037,.18],[.038,.4],[.039,.06],[.04,.25],[.041,.02],[.042,.15],[.043,.35],[.044,-.02],[.045,.1],[.046,.28],[.047,.04],[.048,.18],[.049,-.03],[.05,.12],[.052,.25],[.054,.02],[.056,.1],[.058,.2],[.06,.03],[.062,.08],[.064,0],[.0025,.55],[.0065,.65],[.0105,.58],[.0145,.7],[.0185,.6],[.0225,.66],[.0265,.55],[.0305,.62],[.0045,-.05],[.0085,.22],[.0125,-.02],[.0165,.42],[.0205,.18],[.0245,-.04],[.0285,.28],[.0325,.08],[.0365,.35],[.0405,-.03],[.0445,.2],[.0485,.38],[.001,.35],[.006,.15],[.011,.3],[.016,.05],[.021,.45],[.026,.1],[.031,-.02],[.036,.2],
 [.0499,.35],[.0552,.33],[.0605,.25],[.066,.02],[.0745,.1],[.172,.01]];
const denseK = [[.0015,.1],[.0035,.3],[.0055,.45],[.0075,.05],[.0095,.35],[.0115,.15],[.0135,.25],[.0155,.4],[.0175,-.02],[.0195,.3],[.0215,.05],[.0235,.35],[.0255,.12],[.0275,.45],[.0295,.2],[.0315,0],[.0335,.3],[.0355,.1],[.0375,.25],[.0395,.45],[.0415,.08],[.0435,.2],[.0455,.02],[.0475,.3],[.0495,.15],[.0515,.05],[.0535,.2],[.0555,.3],[.0575,.05],[.0595,.15],[.0615,.2],[.0635,.1]];

const ptsL = [[0,7.78],[0,7.19],[.032,7.19],[0,6.46],[.045,6.2],[0,5.71],[.002,5.68],[0,4.88],[0,4.77],[0,4.67],[.049,4.41],[0,4.09],[0,3.86],[0,3.73],[.042,4.04],[.029,3.83],[.016,3.44],[.482,3.56],[0,3.2],[0,3.07],[.001,3.0],[.121,2.86],[.244,2.75],[.322,2.34],[.024,2.52],[.037,2.55],[.064,2.31],[.042,2.07],[.175,2.07],[.134,1.78],[.158,1.59],[.143,1.18],[.027,1.31],[.073,1.11],[.166,.76],[.064,.82],[.069,.76],[.345,1.02],[.414,1.02],[.514,1.08],[.568,.88],[.301,.69],[.383,.72],[.387,.72],[.354,.76],[.401,.59],[.427,.65],
 [0,2.75],[0,2.6],[0,2.4],[.001,2.25],[0,2.1],[0,1.95],[.001,1.8],[0,1.65],[0,1.5],[.001,1.35],[0,1.2],[0,1.05],[.002,.95],[0,.85],[.002,.75],
 [.001,.6],[.002,.4],[.003,.2],[.004,0],[.005,-.15],[.006,.5],[.008,.3],[.01,.1],[.012,-.1],[.014,.45],[.016,.22],[.018,.05],[.02,-.12],[.022,.35],[.024,.15],[.026,-.05],[.028,.55],[.03,.25],[.032,.02],[.034,-.15],[.036,.4],[.038,.12],[.04,-.08],[.042,.3],[.044,.05],[.046,.2],[.048,-.12],[.05,.45],[.053,.1],[.056,-.05],[.059,.28],[.062,.08],[.065,-.14],[.068,.18],[.071,.38],[.074,0],[.077,.15],[.08,-.1],[.083,.25],[.086,.05],[.089,-.08],[.092,.32],[.095,.12],[.098,-.03],[.101,.2],[.104,.06],[.107,-.12],[.11,.15],[.113,.35],[.116,0],[.119,.1],[.122,-.08],[.125,.22],[.128,.04],[.131,.12],[.134,-.1],[.137,.25],[.14,.02],[.143,.08],[.146,-.05],[.15,.18],[.155,0],[.16,.1],[.165,-.08],[.17,.05],[.175,.2],[.18,-.04],[.185,.08],[.19,-.1],[.195,.02],[.2,.12],[.007,.15],[.011,.38],[.015,-.05],[.019,.52],[.023,0],[.027,.3],[.031,-.1],[.035,.18],[.039,.45],[.043,-.13],[.047,.35],[.051,-.02],[.055,.22],[.06,.4],[.066,.3],[.072,-.06],[.078,.4],[.084,-.12],[.09,.1],[.003,.05],[.009,-.12],[.013,.25],[.017,.4],[.021,.1],[.025,-.08],[.029,.15],[.033,.35],
 [.21,-.05],[.22,.05],[.236,-.09],[.245,.1],[.26,-.05],[.275,.25],[.29,.05],[.305,.35],[.32,.15],[.337,.07],[.35,.2],[.365,.05],[.375,.12],[.39,.3],[.41,.08],[.425,-.05],[.44,.1],[.453,.04],[.474,-.07],[.5,.15],[.52,.25],[.54,.05],[.56,.18],[.58,0],[.6,.1],[.62,.2],[.646,-.09]];
const denseL = [[.004,.3],[.006,.1],[.008,-.05],[.01,.4],[.012,.2],[.014,0],[.016,-.12],[.018,.3],[.02,.15],[.022,-.05],[.024,.45],[.026,.2],[.028,-.1],[.03,.05],[.032,.38],[.034,.15],[.036,-.05],[.038,.3],[.04,.1],[.042,-.12],[.045,.25],[.049,.05],[.052,.3],[.057,.15],[.061,-.1],[.064,.2],[.069,.05],[.073,.25],[.079,.1],[.085,.3],[.091,-.05],[.097,.2],[.103,.25],[.109,-.05],[.115,.1],[.121,.3],[.127,-.1],[.133,.15],[.139,.3],[.145,.05],[.152,-.1],[.158,.25],[.164,.1],[.172,.15],[.178,-.1],[.188,.2],[.196,.1]];

const ptsM = [[0,7.79],[.003,7.21],[.051,7.19],[0,6.49],[.0707,6.23],[0,5.72],[.0916,5.77],[0,4.9],[0,4.84],[.01,4.63],[.0726,4.47],[0,4.11],[0,4.0],[.003,3.9],[0,3.81],[0,3.52],[0,3.25],[.031,3.98],[.0527,3.61],[.0237,3.13],[.0275,3.06],[.0764,3.14],[.105,2.93],[.0185,2.81],[0,2.63],[.0066,2.6],[0,2.24],[0,1.87],[.0237,2.43],[.0256,2.4],[.075,2.4],[.0356,2.14],[.043,2.14],[.0698,1.87],[.057,1.73],[.0166,1.67],[.0019,1.61],[.0038,1.55],[.009,1.38],[.0209,1.31],[0,1.18],[.0356,1.0],[.0484,1.17],[.0375,.79],[.0432,.84],[.0878,1.12],[.1134,.97],[.122,.95],[.1396,1.12],[.142,.86],[.1453,.82],[.1605,.87],[.302,.72],
 [0,.9],[0,.7],[0,.5],[.001,.3],[0,.1],[.001,-.05],
 [.003,.2],[.005,.45],[.007,-.08],[.009,.3],[.011,.65],[.013,.05],[.015,.38],[.017,.15],[.019,-.1],[.021,.5],[.023,.22],[.025,.02],[.027,.6],[.029,.3],[.031,-.06],[.033,.12],[.035,.45],[.037,.2],[.039,-.1],[.041,.35],[.043,.05],[.045,.55],[.047,.18],[.049,-.04],[.051,.28],[.053,.1],[.055,.42],[.057,-.08],[.059,.2],[.061,.6],[.063,.05],[.065,.32],[.067,.15],[.069,-.1],[.071,.25],[.073,.48],[.075,0],[.077,.12],[.079,.35],[.081,-.06],[.083,.2],[.085,.05],[.087,.4],[.089,.15],[.091,-.08],[.093,.28],[.095,.08],[.097,.5],[.1,-.04],[.103,.18],[.106,.3],[.109,.02],[.112,.12],[.115,-.08],[.118,.22],[.121,.05],[.124,.35],[.127,-.02],[.13,.15],[.133,.28],[.136,-.06],[.139,.1],[.142,.2],[.145,0],[.148,.12],[.004,.6],[.008,.1],[.012,.4],[.016,-.05],[.02,.3],[.024,.68],[.028,.1],[.032,.5],[.036,-.02],[.04,.25],[.044,.7],[.048,.4],[.052,-.1],[.056,.15],[.06,.35],[.064,-.05],[.068,.45],[.072,.08],[.076,.6],[.08,.25],[.002,.05],[.006,.3],[.01,-.1],[.014,.2],[.018,.5],[.022,.08],[.026,.35],[.03,.15],[.034,-.08],[.038,.3],
 [.0907,.63],[.118,.43],[.1395,.42],[.1514,0],[.1528,-.03],[.1775,.03],[.173,.24],[.195,.16],[.201,.46],[.206,.32],[.165,.1],[.185,.05],[.16,.3]];
const denseM = [[.002,.4],[.004,.2],[.006,-.05],[.008,.5],[.01,.25],[.012,.08],[.014,.6],[.016,.3],[.018,.1],[.02,-.05],[.022,.4],[.024,.15],[.026,.25],[.028,.55],[.03,-.08],[.032,.2],[.034,.35],[.036,.1],[.038,.5],[.04,0],[.042,.25],[.044,.15],[.046,.4],[.048,.05],[.05,.3],[.054,.1],[.058,.35],[.062,.2],[.066,.05],[.07,.4],[.074,.15],[.078,-.05],[.082,.3],[.086,.2],[.09,.45],[.094,.1],[.098,.25],[.104,.05],[.11,.3],[.116,.1],[.122,.2],[.128,.4],[.134,.1],[.14,.3],[.146,.05]];

const ptsN = [[.0045,7.79],[.0003,7.19],[.0087,7.21],[0,6.48],[0,6.22],[0,5.74],[.0095,5.69],[.007,4.82],[.008,4.9],[0,4.84],[0,4.6],[.0019,4.44],[.0165,4.07],[0,4.07],[0,3.81],[0,3.61],[0,3.5],[.0049,3.85],[.0093,3.94],[.0219,3.72],[.0014,3.19],[.0159,3.09],[.0074,2.59],[.0124,2.55],[.005,2.37],[.0054,2.39],[.0008,2.17],[.0076,1.67],[.0048,1.35],[.0055,1.18],[.0016,1.18],[.0123,1.12],[.0117,.92],[.0108,.76],[.0156,1.05],[.0042,.79],[.0064,.79],[.0078,.79],[.0415,.79],
 [0,3.0],[0,2.85],[0,2.7],[0,2.5],[0,2.35],[0,2.05],[.0003,1.9],[0,1.75],[0,1.6],[0,1.45],[.0003,1.3],[0,1.15],[0,1.0],[.0005,.88],[0,.75],
 [.0005,.6],[.001,.3],[.0015,.05],[.002,.45],[.0025,-.08],[.003,.2],[.0035,.55],[.004,.1],[.0045,.35],[.005,-.05],[.0055,.25],[.006,.6],[.0065,.02],[.007,.4],[.0075,.15],[.008,-.1],[.0085,.3],[.009,.5],[.0095,.08],[.01,.22],[.0105,-.06],[.011,.42],[.0115,.12],[.012,.3],[.0125,-.02],[.013,.18],[.0135,.5],[.014,.05],[.0145,.28],[.015,-.08],[.0155,.15],[.016,.38],[.0165,.02],[.017,.2],[.0175,.1],[.018,-.05],[.0185,.25],[.019,.05],[.0195,.15],[.02,-.03],[.0012,.65],[.0032,.68],[.0052,.65],[.0072,.62],[.0092,.66],[.0018,-.1],[.0038,.4],[.0058,-.02],[.0078,.3],[.0098,.55],[.0118,-.1],[.0138,.35],[.0158,.45],[.0178,.3],[.0008,.15],[.0028,.35],[.0048,.15],[.0068,.5],[.0088,.05],[.0002,.4],[.0022,.1],[.0042,-.06],[.0062,.3],[.0082,.45],[.0102,.12],[.0122,.4],[.0142,-.05],[.0162,.22],[.0182,.12],
 [.021,.1],[.022,.2],[.023,.1],[.024,.15],[.0246,.26],[.0269,.1],[.0278,-.05],[.03,0],[.0325,.13],[.0362,.07],[.0374,.37],[.0548,-.08]];
const denseN = [[.0007,.25],[.0017,.5],[.0027,.1],[.0037,.3],[.0047,-.05],[.0057,.45],[.0067,.2],[.0077,.05],[.0087,.35],[.0097,-.08],[.0107,.3],[.0117,.5],[.0127,.15],[.0137,.05],[.0147,.4],[.0157,-.02],[.0167,.3],[.0177,.15],[.0187,.4],[.0197,.05]];

const ptsO = [[0,7.79],[0,7.23],[.0005,7.22],[0,7.23],[.049,6.28],[.101,6.53],[0,5.81],[.0026,5.83],[0,4.99],[0,4.93],[0,4.8],[.013,4.73],[.0026,4.56],[.011,4.2],[.018,4.11],[.0306,3.29],[.031,3.29],[.025,2.04],[.0395,1.87],[.013,1.38],[.016,1.42],[.008,1.25],[.035,1.31],[.023,1.12],[.067,.53],[.079,.42],[.09,.39],[.113,.49],[.124,.59],[.158,.43],[.21,.39],[.337,.53],
 [0,4.35],[0,4.2],[0,4.05],[0,3.9],[0,3.75],[0,3.6],[.0005,3.45],[0,3.1],[0,2.95],[0,2.8],[.0005,2.65],[0,2.5],[0,2.35],[0,2.2],[.0005,2.05],[0,1.9],[0,1.75],[0,1.6],[.0005,1.45],[0,1.3],[0,1.15],[.001,1.05],[0,.95],
 [.001,.8],[.002,.5],[.003,.2],[.004,.65],[.005,.35],[.006,.15],[.007,.9],[.008,.45],[.009,.25],[.01,.7],[.011,.12],[.012,.55],[.013,.3],[.014,.85],[.015,.18],[.016,.4],[.017,.62],[.018,.13],[.019,.35],[.02,.75],[.021,.2],[.022,.5],[.023,.14],[.024,.3],[.025,.6],[.026,.15],[.027,.42],[.028,.22],[.029,.7],[.03,.13],[.032,.35],[.034,.2],[.036,.5],[.038,.14],[.04,.28],[.042,.15],[.044,.4],[.046,.13],[.048,.22],[.05,.14],[.052,.3],[.054,.13],[.056,.18],[.058,.12],[.06,.25],[.062,.14],[.064,.12],[.066,.2],[.068,.13],[.0015,1.0],[.0035,.95],[.0055,1.1],[.0075,.98],[.0095,1.05],[.0115,.92],[.0025,.3],[.0045,.12],[.0065,.55],[.0085,.75],[.0105,.4],[.0125,.15],[.0145,.6],[.0165,.25],[.0185,.5],[.0205,.12],[.0225,.35],[.0245,.45],[0,.4],[0,.6],[0,.2],[.001,.3],[.0035,.45],[.0075,.2],[.0115,.38],[.0155,.13],[.0195,.55],[.0235,.25],[.0275,.13]];
const denseO = [[.0025,.6],[.0045,.4],[.0065,.25],[.0085,.15],[.0105,.55],[.0125,.35],[.0145,.2],[.0165,.7],[.0185,.2],[.0205,.45],[.0225,.15],[.0245,.25],[.0265,.5],[.0285,.12],[.031,.25],[.033,.45],[.035,.15],[.037,.3],[.039,.2],[.043,.13],[.047,.3],[.051,.2],[.055,.25],[.059,.15],[.063,.18],[.067,.14]];

const ptsP = [[.1,7.79],[.053,7.16],[.088,7.17],[.0866,6.41],[.0866,6.14],[.017,5.61],[.241,5.65],[.004,4.77],[.0016,4.66],[.06,4.7],[.088,4.47],[.088,4.27],[.05,3.92],[.053,3.88],[0,3.65],[.092,3.77],[.13,3.68],[.356,3.39],[.046,3.53],[.117,3.29],[.018,3.0],[.002,2.8],[.06,2.89],[.09,2.89],[.147,2.65],[.181,2.55],[.032,2.35],[.026,2.2],[.061,2.39],[.147,2.26],[.153,2.1],[.172,2.1],[.0016,1.91],[.055,1.84],[.07,1.84],[.079,1.51],[.166,1.54],[.225,1.34],[.019,1.28],[.035,1.38],[.041,1.05],[.046,1.02],[.039,.79],[.068,.79],[.025,.66],[.024,.45],[.113,.85],[.147,.89],[.148,1.21],
 [.288,.81],[.35,.76],[.388,.75],[.257,.45],[.279,.45],[.309,.45],[.333,.47],[.369,.58],[.4,.07],[.43,.07],[.2,.5],[.198,.6],
 [0,-.2],[0,-.35],[0,-.5],[0,0],[0,.2],[.001,.45],
 [.003,-.3],[.006,-.45],[.009,-.15],[.012,-.38],[.015,-.25],[.018,-.5],[.021,-.12],[.024,-.33],[.027,-.45],[.03,-.2],[.033,-.4],[.036,-.28],[.039,-.1],[.042,-.48],[.045,-.3],[.048,-.18],[.051,-.42],[.054,-.25],[.057,-.35],[.06,-.12],[.063,-.5],[.066,-.3],[.069,-.2],[.072,-.4],[.075,-.15],[.078,-.33],[.081,-.47],[.084,-.22],[.087,-.38],[.09,-.1],[.093,-.3],[.096,-.45],[.099,-.2],[.102,-.35],[.105,-.15],[.108,-.42],[.111,-.27],[.114,-.5],[.117,-.18],[.12,-.35],[.123,-.25],[.126,-.45],[.129,-.12],[.132,-.3],[.135,-.4],[.138,-.2],[.141,-.33],[.144,-.48],[.147,-.15],[.15,-.28],[.153,-.4],[.156,-.22],[.159,-.35],[.162,-.1],[.165,-.45],[.168,-.25],[.171,-.38],[.174,-.18],[.177,-.3],[.18,-.45],[.183,-.22],[.186,-.35],[.19,-.15],[.194,-.4],[.198,-.28],[.005,.05],[.011,.2],[.017,-.05],[.023,.1],[.029,.3],[.035,-.02],[.041,.15],[.047,.05],[.053,.25],[.059,-.05],[.065,.1],[.071,.3],[.077,0],[.083,.18],[.089,.05],[.095,.28],[.101,-.03],[.107,.12],[.113,.22],[.119,0],[.01,-.25],[.025,-.4],[.04,-.2],[.055,-.45],[.07,-.3],[.085,-.5],[.1,-.38],[.115,-.35],[.13,-.48],[.145,-.38],[.008,-.35],[.02,-.2],[.032,-.3],[.044,-.38],[.056,-.2],[.068,-.42],[.08,-.25],[.092,-.4],[.104,-.3],[.116,-.25],
 [.21,-.1],[.215,-.21],[.225,-.3],[.237,-.34],[.25,-.35],[.26,-.2],[.27,-.05],[.29,-.37],[.3,-.2],[.317,-.29],[.33,-.15],[.345,-.25],[.36,-.1],[.375,-.3],[.388,-.39],[.4,-.2],[.415,-.1],[.43,-.37],[.445,-.15],[.46,-.05],[.5,-.24],[.215,.1],[.23,.25],[.28,.1],[.32,.15],[.36,.2]];
const denseP = [[.002,-.4],[.004,-.15],[.007,-.25],[.011,-.45],[.014,-.1],[.016,-.35],[.019,-.28],[.022,-.42],[.026,-.18],[.028,-.3],[.031,-.5],[.034,-.15],[.037,-.35],[.043,-.25],[.046,-.45],[.049,-.12],[.052,-.3],[.058,-.2],[.061,-.4],[.064,-.15],[.067,-.45],[.073,-.25],[.076,-.5],[.079,-.12],[.082,-.35],[.088,-.28],[.091,-.45],[.094,-.18],[.097,-.3],[.103,-.48],[.106,-.25],[.109,-.12],[.112,-.4],[.118,-.3],[.121,-.15],[.124,-.45],[.127,-.28],[.133,-.18],[.136,-.5],[.139,-.3],[.142,-.15],[.148,-.42],[.151,-.2],[.157,-.45],[.16,-.3],[.163,-.18],[.169,-.42],[.172,-.15],[.178,-.25],[.181,-.38],[.187,-.2],[.192,-.3],[.196,-.45]];

const panelPoints = [ptsA.concat(denseA), ptsB.concat(denseB), ptsC.concat(denseC), ptsD.concat(denseD),
  ptsE.concat(denseE), ptsF.concat(denseF), ptsG.concat(denseG), ptsH.concat(denseH),
  ptsI.concat(denseI), ptsJ.concat(denseJ), ptsK.concat(denseK), ptsL.concat(denseL),
  ptsM.concat(denseM), ptsN.concat(denseN), ptsO.concat(denseO), ptsP.concat(denseP)];
const yAxisTitle = "CLDN10 Expression Level (log2 TPM)";
const bottomLabel = "Infiltration lever";

// ---------------- LAYOUT ----------------
const COL_LEFT = [59.5, 316, 568.5, 823.5];
const ROW_TOP = [26, 311, 597, 884];
const ROW_PH = [230, 236, 236, 236];
const LETTER_X = [33, 299, 552, 812];
const PW = 240, STRIP = 24, MB = 24;
const FONT = "'Liberation Sans', Arial, Helvetica, sans-serif";

const root = document.getElementById("root");

for (let i = 0; i < 16; i++) {
  const row = Math.floor(i / 4), col = i % 4;
  const left = COL_LEFT[col], top = ROW_TOP[row], PH = ROW_PH[row];

  const strip = document.createElement("div");
  strip.className = "strip";
  strip.style.left = left + "px";
  strip.style.top = top + "px";
  strip.style.width = PW + "px";
  strip.style.height = STRIP + "px";
  const span = document.createElement("span");
  span.textContent = panelTitles[i];
  span.style.flex = "none";
  strip.appendChild(span);
  root.appendChild(strip);
  let fs = 13;
  while (span.offsetWidth > PW - 4 && fs > 10) { fs -= 0.1; span.style.fontSize = fs + "px"; }

  const ml = col === 0 ? left : 0;
  const xt = xTicks[i];
  const dom = xDomains[i];
  const step = xt[1] - xt[0];
  const minor = [];
  for (let k = -1; k < xt.length; k++) {
    const v = xt[0] + (k + 0.5) * step;
    if (v > dom[0] && v < dom[1]) minor.push(v);
  }
  const data = panelPoints[i].map(([x, y]) => ({x, y}));
  const band = bands[i].map(([x, lo, hi]) => ({x, lo, hi}));
  const fit = [{x: fitStart[i][0], y: fitStart[i][1]}, {x: fitEnd[i][0], y: fitEnd[i][1]}];

  const marks = [
    Plot.ruleY(yMinor, {stroke: "#ebebeb", strokeWidth: 0.8}),
    Plot.ruleX(minor, {stroke: "#ebebeb", strokeWidth: 0.8}),
    Plot.ruleY(yTicks, {stroke: "#ebebeb", strokeWidth: 1.6}),
    Plot.ruleX(xt, {stroke: "#ebebeb", strokeWidth: 1.6}),
    Plot.dot(data, {x: "x", y: "y", r: 2.6, fill: "#1a1a1a", fillOpacity: 0.58}),
    Plot.areaY(band, {x: "x", y1: "lo", y2: "hi", fill: "#999999", fillOpacity: 0.4, curve: "monotone-x"}),
    Plot.line(fit, {x: "x", y: "y", stroke: "#325db5", strokeWidth: 4}),
    Plot.text([`Rho = ${rhoValues[i]}\np = ${pValues[i]}`], {frameAnchor: "top-right", textAnchor: "end", lineAnchor: "top", dx: -2, dy: 4, fill: "#ff0000", fontSize: 11.5, lineHeight: 1.05}),
    Plot.frame({stroke: "#333333", strokeWidth: 1.2}),
    Plot.axisX({ticks: xt, tickFormat: d => d.toFixed(xDigits[i]), tickSize: 3, tickPadding: 3, fontSize: 12.5, color: "#4d4d4d", label: null})
  ];
  if (col === 0) {
    marks.push(Plot.text(yTicks, {y: d => d, frameAnchor: "left", dx: -28.5, textAnchor: "end", fontSize: 13, fill: "#4d4d4d"}));
    marks.push(Plot.dot(yTicks, {y: d => d, frameAnchor: "left", dx: -23, symbol: "square", r: 1.7, fill: "#333333"}));
  }

  const svg = Plot.plot({
    width: PW + ml,
    height: PH + MB,
    marginLeft: ml,
    marginRight: 0,
    marginTop: 0,
    marginBottom: MB,
    x: {domain: dom},
    y: {domain: [-0.80, 8.18], axis: null},
    style: {background: "transparent", overflow: "visible", fontFamily: FONT, fontSize: "12.5px"},
    marks
  });
  svg.classList.add("panel");
  svg.style.position = "absolute";
  svg.style.left = (left - ml) + "px";
  svg.style.top = (top + STRIP) + "px";
  svg.style.maxWidth = "none";
  root.appendChild(svg);
}

// overlay: panel letters, y-axis titles, bottom arrow
const ns = "http://www.w3.org/2000/svg";
const ov = document.createElementNS(ns, "svg");
ov.setAttribute("id", "overlay");
ov.setAttribute("width", 1065);
ov.setAttribute("height", 1202);
ov.style.fontFamily = FONT;
function el(tag, attrs, text) {
  const e = document.createElementNS(ns, tag);
  for (const k in attrs) e.setAttribute(k, attrs[k]);
  if (text !== undefined) e.textContent = text;
  ov.appendChild(e);
  return e;
}
for (let i = 0; i < 16; i++) {
  const row = Math.floor(i / 4), col = i % 4;
  el("text", {x: LETTER_X[col], y: ROW_TOP[row] - 4, "font-size": 20, "font-weight": "bold", fill: "#000"}, panelLetters[i]);
}
for (let r = 0; r < 4; r++) {
  const cy = ROW_TOP[r] + STRIP + ROW_PH[r] / 2;
  el("text", {x: 17, y: cy, "font-size": 16.5, fill: "#000", "text-anchor": "middle", transform: `rotate(-90 17 ${cy})`}, yAxisTitle);
}
// arrow
el("polygon", {points: "61,1182.5 103,1164 95,1182.5 103,1201", fill: "#000"});
el("polygon", {points: "1063,1182.5 1021,1164 1029,1182.5 1021,1201", fill: "#000"});
el("line", {x1: 97, y1: 1182.5, x2: 436, y2: 1182.5, stroke: "#000", "stroke-width": 5});
el("line", {x1: 688, y1: 1182.5, x2: 1027, y2: 1182.5, stroke: "#000", "stroke-width": 5});
el("text", {x: 462, y: 1195, "font-size": 36, fill: "#000", textLength: 210, lengthAdjust: "spacingAndGlyphs"}, bottomLabel);
root.appendChild(ov);
</script></body></html>
